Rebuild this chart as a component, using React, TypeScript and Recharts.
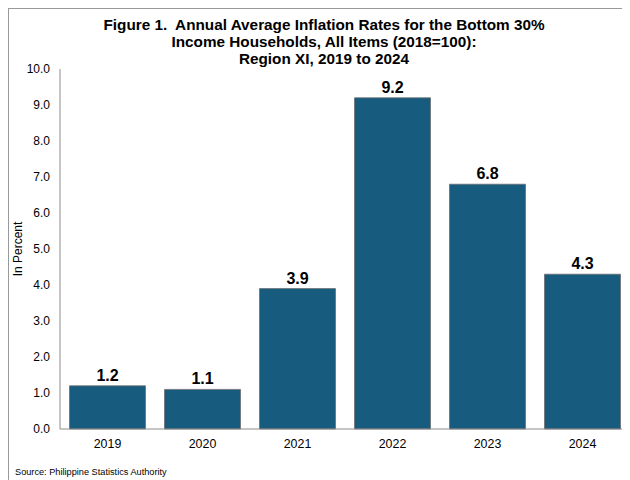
import { BarChart, Bar, XAxis, YAxis, LabelList } from "recharts";

const years = ["2019", "2020", "2021", "2022", "2023", "2024"];
const rates = [1.2, 1.1, 3.9, 9.2, 6.8, 4.3];
const yTicks = [0, 1, 2, 3, 4, 5, 6, 7, 8, 9, 10];

const titleLines = [
  "Figure 1.  Annual Average Inflation Rates for the Bottom 30%",
  "Income Households, All Items (2018=100):",
  "Region XI, 2019 to 2024",
];

const FONT = '"Liberation Sans", Arial, sans-serif';
const BAR_FILL = "#175C7E";
const AXIS = "#8c8c8c";

const rows = years.map((y, i) => ({ year: y, rate: rates[i] }));

function YLabel(props: any) {
  const vb = props.viewBox || { x: 0, y: 0, width: 0, height: 0 };
  const cx = 10;
  const cy = vb.y + vb.height / 2;
  return (
    <text
      x={cx}
      y={cy}
      transform={`rotate(-90 ${cx} ${cy})`}
      textAnchor="middle"
      dominantBaseline="central"
      fontSize={12}
      fontFamily={FONT}
      fill="#000"
    >
      In Percent
    </text>
  );
}

export default function App() {
  return (
    <div
      style={{
        position: "relative",
        width: 622,
        height: 472,
        borderTop: "1px solid #999",
        borderLeft: "1px solid #999",
        boxSizing: "border-box",
        fontFamily: FONT,
      }}
    >
      <div
        style={{
          position: "absolute",
          left: 0,
          top: 7,
          width: 630,
          textAlign: "center",
          fontWeight: "bold",
          fontSize: 15.3,
          lineHeight: "17px",
          color: "#000",
        }}
      >
        {titleLines.map((t) => (
          <div key={t} style={{ whiteSpace: "pre" }}>{t}</div>
        ))}
      </div>
      <div
        style={{
          position: "absolute",
          left: 6,
          top: 458,
          fontSize: 9.2,
          color: "#000",
        }}
      >
        Source: Philippine Statistics Authority
      </div>
      <BarChart
        width={622}
        height={472}
        data={rows}
        margin={{ top: 61, right: 0, bottom: 21, left: 0 }}
        barCategoryGap="10%"
        style={{ position: "absolute", left: -1, top: -1 }}
      >
        <XAxis
          dataKey="year"
          tickLine={false}
          axisLine={{ stroke: AXIS }}
          tick={{ fontSize: 12.4, fill: "#000", fontFamily: FONT }}
          height={30}
          tickMargin={4}
        />
        <YAxis
          width={52}
          domain={[0, 10]}
          ticks={yTicks}
          tickFormatter={(v: number) => v.toFixed(1)}
          tickLine={false}
          axisLine={{ stroke: AXIS }}
          tick={{ fontSize: 12, fill: "#000", fontFamily: FONT }}
          tickMargin={4}
          label={<YLabel />}
        />
        <Bar
          dataKey="rate"
          fill={BAR_FILL}
          stroke="#6b6b6b"
          strokeWidth={0.75}
          isAnimationActive={false}
        >
          <LabelList
            dataKey="rate"
            position="top"
            offset={5}
            formatter={(v: any) => Number(v).toFixed(1)}
            style={{ fontSize: 16, fontWeight: "bold", fill: "#000", fontFamily: FONT }}
          />
        </Bar>
      </BarChart>
    </div>
  );
}
